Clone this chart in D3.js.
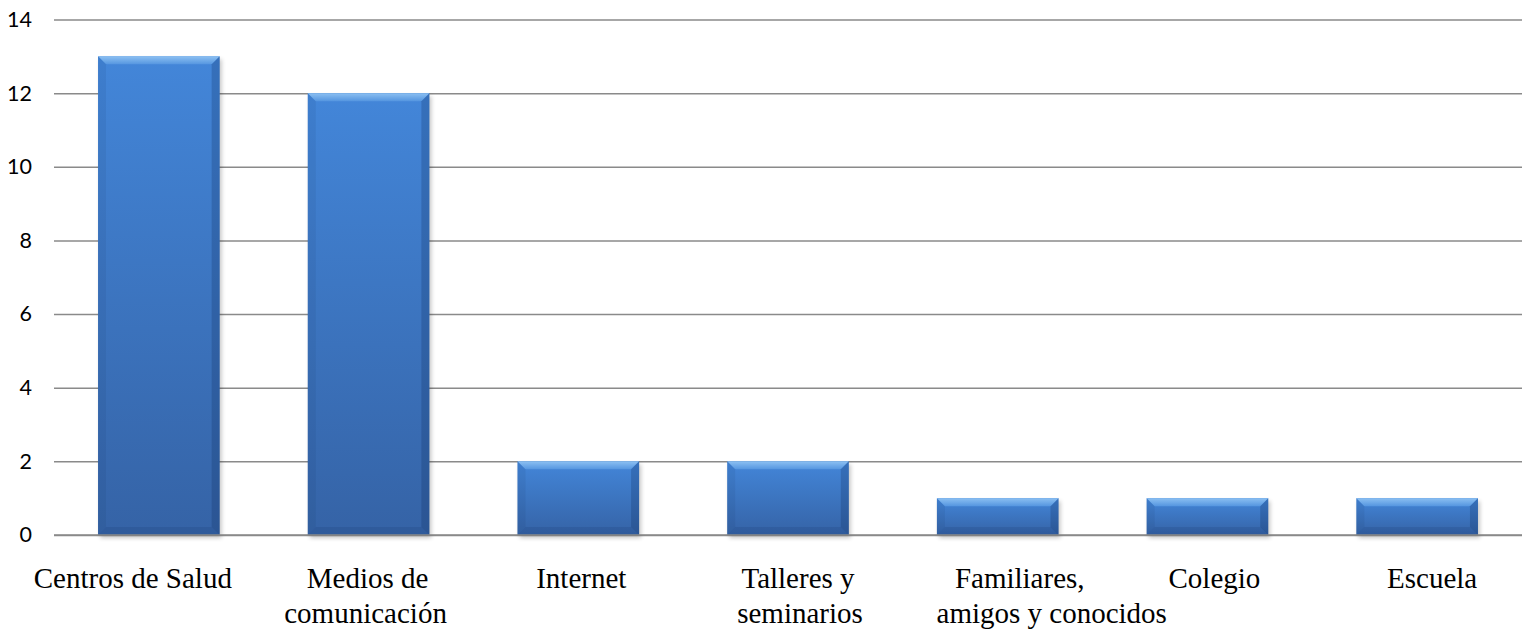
<!DOCTYPE html>
<html>
<head>
<meta charset="utf-8">
<script src="https://cdn.jsdelivr.net/npm/d3@7"></script>
<style>
  html, body { margin: 0; padding: 0; background: #ffffff; }
  svg { display: block; }
</style>
</head>
<body>
<svg id="chart" width="1533" height="629"></svg>
<script>
// ---- data ----
const categories = ["Centros de Salud", "Medios de comunicación", "Internet", "Talleres y seminarios", "Familiares, amigos y conocidos", "Colegio", "Escuela"];
const categoryLines = [["Centros de Salud"], ["Medios de", "comunicación"], ["Internet"], ["Talleres y", "seminarios"], ["Familiares,", "amigos y conocidos"], ["Colegio"], ["Escuela"]];
const values = [13, 12, 2, 2, 1, 1, 1];
const yTicks = [0, 2, 4, 6, 8, 10, 12, 14];

// ---- layout (styling, not data) ----
const labelShift = [[-26], [-1, -3], [3], [10, 12], [22, 54], [7], [15]];
const W = 1533, H = 629;
const margin = { left: 54, right: 11, top: 19.5, bottom: 94 };

const svg = d3.select("#chart");
const defs = svg.append("defs");

const gMain = defs.append("linearGradient").attr("id", "gMain").attr("x1", 0).attr("y1", 0).attr("x2", 0).attr("y2", 1);
gMain.append("stop").attr("offset", "0%").attr("stop-color", "#4386d9");
gMain.append("stop").attr("offset", "100%").attr("stop-color", "#3563a6");

const gTop = defs.append("linearGradient").attr("id", "gTop").attr("x1", 0).attr("y1", 0).attr("x2", 0).attr("y2", 1);
gTop.append("stop").attr("offset", "0%").attr("stop-color", "#8cc0f2");
gTop.append("stop").attr("offset", "100%").attr("stop-color", "#5596e0");

const blur = defs.append("filter").attr("id", "shadow").attr("x", "-20%").attr("y", "-20%").attr("width", "140%").attr("height", "140%");
blur.append("feGaussianBlur").attr("stdDeviation", 2);

const x = d3.scaleBand()
  .domain(categories)
  .range([margin.left, W - margin.right])
  .paddingInner(0.42)
  .paddingOuter(0.21);

const y = d3.scaleLinear()
  .domain([0, 14])
  .range([H - margin.bottom, margin.top]);

// gridlines
const yAxis = d3.axisLeft(y)
  .tickValues(yTicks)
  .tickSize(-(W - margin.left - margin.right))
  .tickPadding(22)
  .tickFormat(d3.format("d"));

const ga = svg.append("g")
  .attr("transform", `translate(${margin.left},0)`)
  .call(yAxis);
ga.select(".domain").remove();
ga.selectAll(".tick line").attr("stroke", "#8a8a8a").attr("stroke-width", 1.5);
ga.selectAll(".tick text")
  .attr("fill", "#000")
  .style("font-family", "Lato, 'Open Sans', sans-serif")
  .style("font-size", "21.5px");

// bars
const bev = 8;
const bars = svg.append("g").selectAll("g.bar")
  .data(values.map((v, i) => ({ v, c: categories[i] })))
  .join("g").attr("class", "bar");

bars.append("rect")
  .attr("x", d => x(d.c) + 2)
  .attr("y", d => y(d.v) + 3)
  .attr("width", x.bandwidth())
  .attr("height", d => y(0) - y(d.v))
  .attr("fill", "#000")
  .attr("opacity", 0.22)
  .attr("filter", "url(#shadow)");

bars.append("rect")
  .attr("x", d => x(d.c))
  .attr("y", d => y(d.v))
  .attr("width", x.bandwidth())
  .attr("height", d => y(0) - y(d.v))
  .attr("fill", "url(#gMain)");

function poly(pts) { return pts.map(p => p.join(",")).join(" "); }

// top bevel
bars.append("polygon")
  .attr("points", d => {
    const x0 = x(d.c), x1 = x0 + x.bandwidth(), t = y(d.v);
    return poly([[x0, t], [x1, t], [x1 - bev, t + bev], [x0 + bev, t + bev]]);
  })
  .attr("fill", "url(#gTop)");

// left bevel
bars.append("polygon")
  .attr("points", d => {
    const x0 = x(d.c), t = y(d.v), b = y(0);
    return poly([[x0, t], [x0 + bev, t + bev], [x0 + bev, b - bev], [x0, b]]);
  })
  .attr("fill", "#0a2350").attr("opacity", 0.08);

// right bevel
bars.append("polygon")
  .attr("points", d => {
    const x1 = x(d.c) + x.bandwidth(), t = y(d.v), b = y(0);
    return poly([[x1, t], [x1 - bev, t + bev], [x1 - bev, b - bev], [x1, b]]);
  })
  .attr("fill", "#0a2350").attr("opacity", 0.22);

// bottom bevel
bars.append("polygon")
  .attr("points", d => {
    const x0 = x(d.c), x1 = x0 + x.bandwidth(), b = y(0);
    return poly([[x0, b], [x0 + bev, b - bev], [x1 - bev, b - bev], [x1, b]]);
  })
  .attr("fill", "#0a2350").attr("opacity", 0.12);

// baseline on top of bars' bottom
svg.append("line")
  .attr("x1", margin.left).attr("x2", W - margin.right)
  .attr("y1", y(0)).attr("y2", y(0))
  .attr("stroke", "#8a8a8a").attr("stroke-width", 1.5);

// category labels
const lab = svg.append("g").selectAll("text")
  .data(categoryLines)
  .join("text")
  .attr("text-anchor", "middle")
  .attr("fill", "#000")
  .style("font-family", "'Liberation Serif', 'Times New Roman', serif")
  .style("font-size", "29px");

lab.each(function (lines, i) {
  const cx = x(categories[i]) + x.bandwidth() / 2;
  d3.select(this).selectAll("tspan")
    .data(lines)
    .join("tspan")
    .attr("x", (l, j) => cx + labelShift[i][j])
    .attr("y", (l, j) => y(0) + 53 + j * 35)
    .text(l => l);
});
</script>
</body>
</html>
